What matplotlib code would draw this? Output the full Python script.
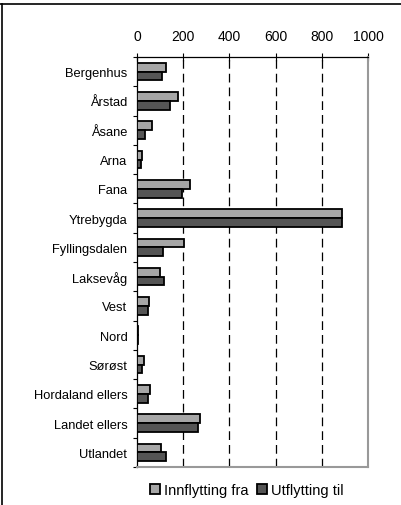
import numpy as np
import matplotlib.pyplot as plt
from matplotlib.lines import Line2D

plt.rcParams['font.family'] = ['Liberation Sans', 'DejaVu Sans']

omrader = ['Bergenhus', 'Årstad', 'Åsane', 'Arna', 'Fana', 'Ytrebygda',
           'Fyllingsdalen', 'Laksevåg', 'Vest', 'Nord', 'Sørøst',
           'Hordaland ellers', 'Landet ellers', 'Utlandet']
innflytting = [125, 179, 64, 23, 229, 887, 205, 100, 52, 5, 32, 55, 272, 105]
utflytting = [107, 143, 36, 19, 193, 887, 113, 115, 48, 5, 20, 48, 265, 124]

fig = plt.figure(figsize=(4.01, 5.06), dpi=100)
ax = fig.add_axes([137 / 401, 1 - 468 / 506, 231 / 401, 410 / 506])

y = np.arange(len(omrader))
h = 0.3
ax.barh(y - h / 2, innflytting, height=h, color='#a6a6a6', edgecolor='black',
        linewidth=1.3, label='Innflytting fra', zorder=3)
ax.barh(y + h / 2, utflytting, height=h, color='#555555', edgecolor='black',
        linewidth=1.3, label='Utflytting til', zorder=3)

ax.set_xlim(0, 1000)
ax.set_ylim(len(omrader) - 0.5, -0.5)
ax.xaxis.tick_top()
ax.set_xticks(range(0, 1001, 200))
ax.tick_params(axis='x', direction='inout', length=6, width=0.8, pad=7, labelsize=10)
ax.set_yticks(y)
ax.set_yticklabels(omrader, fontsize=9.3)
ax.set_yticks(np.arange(len(omrader) + 1) - 0.5, minor=True)
ax.tick_params(axis='y', which='major', length=0, pad=7)
ax.tick_params(axis='y', which='minor', length=3, width=0.8, direction='out')

for xv in range(200, 1000, 200):
    ax.axvline(xv, color='black', linestyle=(0, (7, 4)), linewidth=0.9, zorder=1)

for s in ['right', 'bottom']:
    ax.spines[s].set_color('#999999')
    ax.spines[s].set_linewidth(1.5)
ax.spines['top'].set_linewidth(0.9)
ax.spines['left'].set_linewidth(0.9)

ax.legend(loc='center', bbox_to_anchor=(247 / 401, 1 - 491 / 506),
          bbox_transform=fig.transFigure, ncol=2, frameon=False, fontsize=10.5,
          handlelength=0.65, handleheight=0.65, handletextpad=0.3, columnspacing=0.6)

# figure frame (top and left)
fig.add_artist(Line2D([0, 1], [1 - 5 / 506, 1 - 5 / 506], transform=fig.transFigure,
                      color='black', linewidth=1.2))
fig.add_artist(Line2D([1.5 / 401, 1.5 / 401], [0, 1 - 5 / 506], transform=fig.transFigure,
                      color='black', linewidth=1.2))

fig.savefig('out.png', dpi=100)
